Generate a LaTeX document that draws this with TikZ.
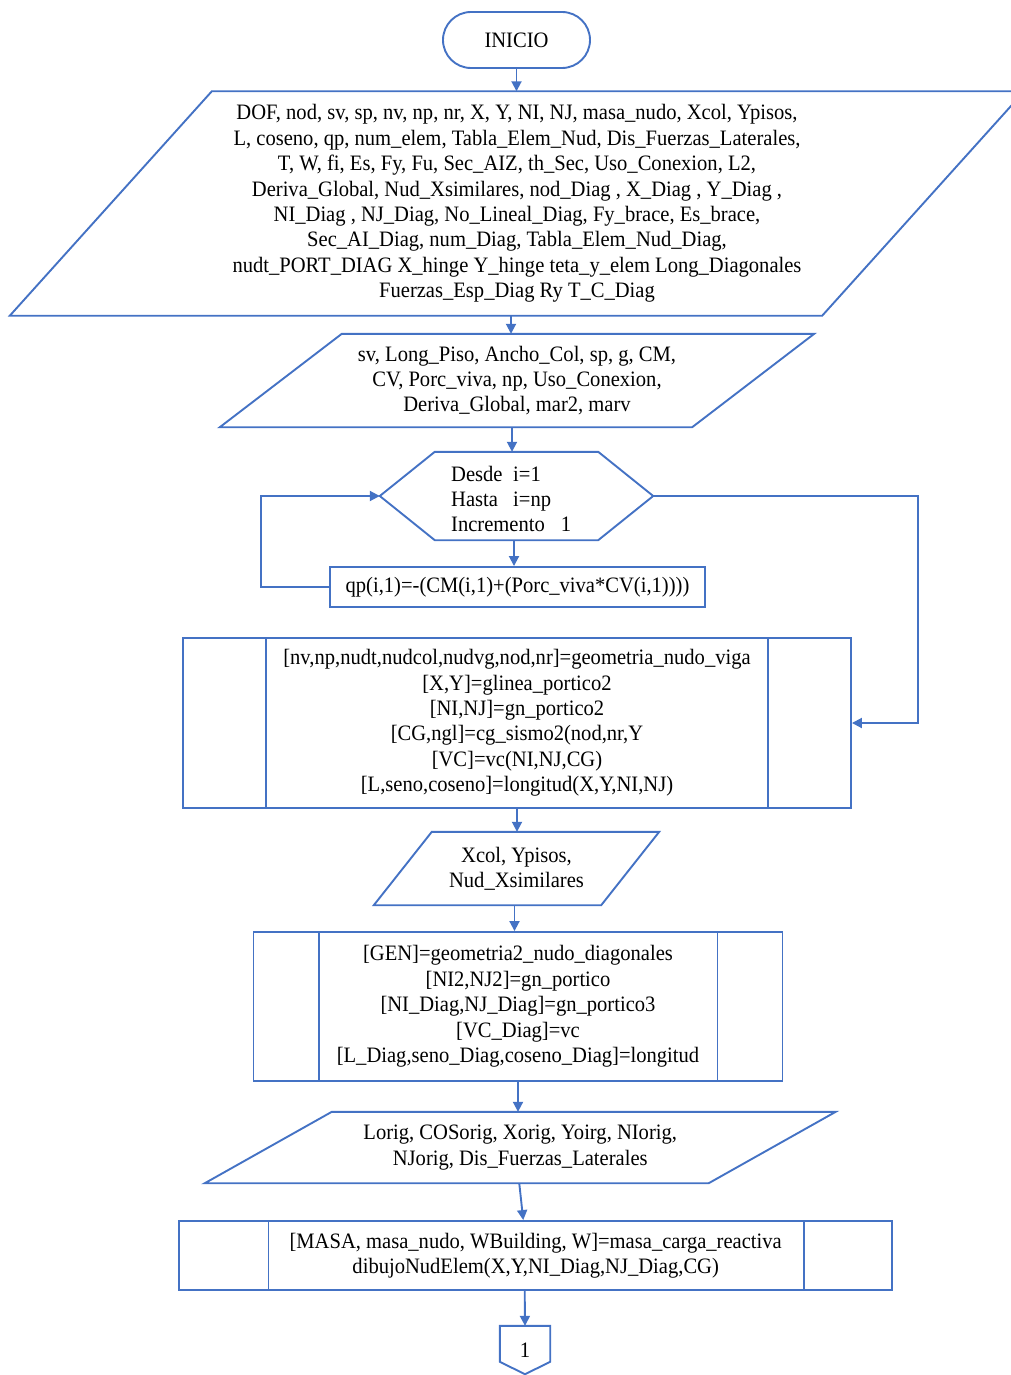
\documentclass[tikz,border=0pt]{standalone}
\usepackage{fontspec}
\setmainfont{Liberation Serif}[FakeStretch=0.935]
\usetikzlibrary{arrows.meta,calc}
\definecolor{flowblue}{HTML}{4472C4}
\begin{document}
\begin{tikzpicture}[x=1pt,y=-1pt,
  flow/.style={draw=flowblue,line width=1.9pt,line join=miter},
  arr/.style={flowblue,line width=1.9pt,-{Triangle[length=10pt,width=10pt]}},
  txt/.style={align=center,inner sep=0pt,font=\fontsize{22}{25.4}\selectfont},
  box/.style={txt,flow,rectangle},
  geo/.style={inner sep=0pt,draw=none}]
\useasboundingbox (0,0) rectangle (1011,1375);

% start terminal
\node[txt,flow,rounded corners=28pt,minimum width=147pt,minimum height=56pt] (start) at (516.5,40) {INICIO};

% first data block
\node[txt,minimum width=812pt,minimum height=224pt] (in1) at (517,203.5) {DOF, nod, sv, sp, nv, np, nr, X, Y, NI, NJ, masa\_nudo, Xcol, Ypisos,\\
L, coseno, qp, num\_elem, Tabla\_Elem\_Nud, Dis\_Fuerzas\_Laterales,\\
T, W, fi, Es, Fy, Fu, Sec\_AIZ, th\_Sec, Uso\_Conexion, L2,\\
Deriva\_Global, Nud\_Xsimilares, nod\_Diag , X\_Diag , Y\_Diag ,\\
NI\_Diag , NJ\_Diag, No\_Lineal\_Diag, Fy\_brace, Es\_brace,\\
Sec\_AI\_Diag, num\_Diag, Tabla\_Elem\_Nud\_Diag,\\
nudt\_PORT\_DIAG X\_hinge Y\_hinge teta\_y\_elem Long\_Diagonales\\
Fuerzas\_Esp\_Diag Ry T\_C\_Diag};
\draw[flow] ($(in1.north west)+(101,0)$) -- ($(in1.north east)+(101,0)$) -- ($(in1.south east)+(-101,0)$) -- ($(in1.south west)+(-101,0)$) -- cycle;

% second data block
\node[txt,minimum width=472pt,minimum height=93pt] (in2) at (517,380.5) {sv, Long\_Piso, Ancho\_Col, sp, g, CM,\\
CV, Porc\_viva, np, Uso\_Conexion,\\
Deriva\_Global, mar2, marv};
\draw[flow] ($(in2.north west)+(61,0)$) -- ($(in2.north east)+(61,0)$) -- ($(in2.south east)+(-61,0)$) -- ($(in2.south west)+(-61,0)$) -- cycle;

% loop header
\node[geo,minimum width=273pt,minimum height=88pt] (hex) at (516.5,496) {};
\draw[flow] (hex.west) -- ($(hex.north west)+(55,0)$) -- ($(hex.north east)+(-55,0)$) -- (hex.east) -- ($(hex.south east)+(-55,0)$) -- ($(hex.south west)+(55,0)$) -- cycle;
\node[txt,align=left,anchor=west] (hext) at (451,499) {\makebox[62pt][l]{Desde}i=1\\
\makebox[62pt][l]{Hasta}i=np\\
Incremento\hspace{16pt}1};

% loop body
\node[box,minimum width=375pt,minimum height=40pt] (calc) at (517.5,587) {qp(i,1)=-(CM(i,1)+(Porc\_viva*CV(i,1))))};

% first predefined process
\node[box,minimum width=668pt,minimum height=170pt] (sub1) at (517,723) {{[}nv,np,nudt,nudcol,nudvg,nod,nr]=geometria\_nudo\_viga\\
{[}X,Y]=glinea\_portico2\\
{[}NI,NJ]=gn\_portico2\\
{[}CG,ngl]=cg\_sismo2(nod,nr,Y\\
{[}VC]=vc(NI,NJ,CG)\\
{[}L,seno,coseno]=longitud(X,Y,NI,NJ)};
\draw[flow] ([xshift=84pt]sub1.north west) -- ([xshift=84pt]sub1.south west);
\draw[flow] ([xshift=-84pt]sub1.north east) -- ([xshift=-84pt]sub1.south east);

% third data block
\node[txt,minimum width=227pt,minimum height=73pt] (in3) at (516.5,868.5) {Xcol, Ypisos,\\Nud\_Xsimilares};
\draw[flow] ($(in3.north west)+(29,0)$) -- ($(in3.north east)+(29,0)$) -- ($(in3.south east)+(-29,0)$) -- ($(in3.south west)+(-29,0)$) -- cycle;

% second predefined process
\node[box,minimum width=529pt,minimum height=149pt] (sub2) at (518,1006.5) {{[}GEN]=geometria2\_nudo\_diagonales\\
{[}NI2,NJ2]=gn\_portico\\
{[}NI\_Diag,NJ\_Diag]=gn\_portico3\\
{[}VC\_Diag]=vc\\
{[}L\_Diag,seno\_Diag,coseno\_Diag]=longitud};
\draw[flow] ([xshift=66pt]sub2.north west) -- ([xshift=66pt]sub2.south west);
\draw[flow] ([xshift=-66pt]sub2.north east) -- ([xshift=-66pt]sub2.south east);

% fourth data block
\node[txt,minimum width=503.5pt,minimum height=71pt] (in4) at (520.25,1147.5) {Lorig, COSorig, Xorig, Yoirg, NIorig,\\NJorig, Dis\_Fuerzas\_Laterales};
\draw[flow] ($(in4.north west)+(63.5,0)$) -- ($(in4.north east)+(63.5,0)$) -- ($(in4.south east)+(-63.5,0)$) -- ($(in4.south west)+(-63.5,0)$) -- cycle;

% third predefined process
\node[box,minimum width=712.6pt,minimum height=69pt] (sub3) at (535.7,1255.5) {{[}MASA, masa\_nudo, WBuilding, W]=masa\_carga\_reactiva\\
dibujoNudElem(X,Y,NI\_Diag,NJ\_Diag,CG)};
\draw[flow] ([xshift=90pt]sub3.north west) -- ([xshift=90pt]sub3.south west);
\draw[flow] ([xshift=-89pt]sub3.north east) -- ([xshift=-89pt]sub3.south east);

% off-page connector
\node[txt,geo,minimum width=50pt,minimum height=48pt] (off) at (525,1350) {1};
\draw[flow] (off.north west) -- (off.north east) -- ($(off.north east)+(0,36)$) -- (off.south) -- ($(off.north west)+(0,36)$) -- cycle;

% connectors
\draw[arr] (start.south) -- (start.south |- in1.north);
\draw[arr] ([xshift=-6pt]in1.south) -- ([xshift=-6pt]in2.north);
\draw[arr] ([xshift=-5pt]in2.south) -- ([xshift=-5pt]in2.south |- hex.north);
\draw[arr] ([xshift=-2.5pt]hex.south) -- ([xshift=-2.5pt]hex.south |- calc.north);
\draw[arr] (calc.west) -- ++(-68,0) |- (hex.west);
\draw[arr] (hex.east) -| ($(sub1.east)+(66,0)$) -- (sub1.east);
\draw[arr] (sub1.south) -- (sub1.south |- in3.north);
\draw[arr] ([xshift=-2pt]in3.south) -- ([xshift=-2pt]in3.south |- sub2.north);
\draw[arr] (sub2.south) -- (sub2.south |- in4.north);
\draw[arr] ([xshift=-1pt]in4.south) -- ([xshift=3pt]sub3.north -| in4.south);
\draw[arr] ([xshift=-11pt]sub3.south) -- (off.north);
\end{tikzpicture}
\end{document}
